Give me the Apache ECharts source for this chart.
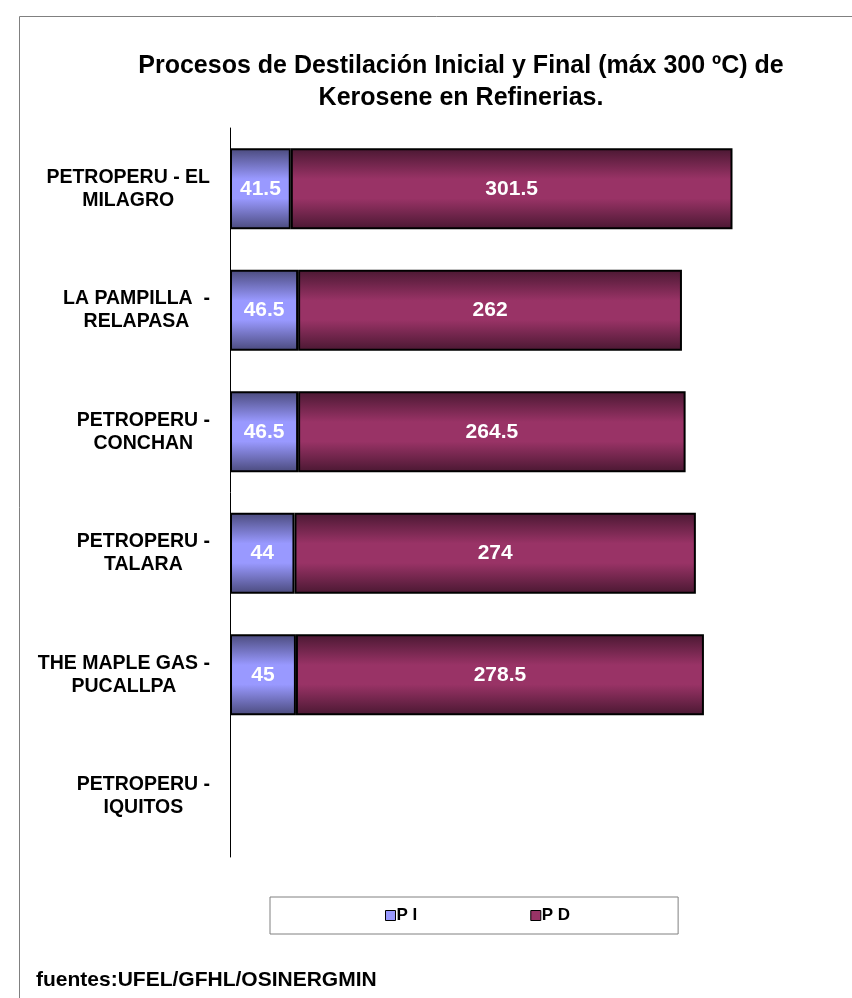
<!DOCTYPE html>
<html>
<head>
<meta charset="utf-8">
<title>Destilación Kerosene</title>
<script src="https://cdn.jsdelivr.net/npm/echarts@6/dist/echarts.min.js"></script>
<style>
  html, body { margin: 0; padding: 0; background: #fff; }
  #container { width: 852px; height: 998px; }
</style>
</head>
<body>
<div id="container"></div>
<script>
// categorias (de arriba hacia abajo)
const refinerias = [
  'PETROPERU - EL\nMILAGRO',
  'LA PAMPILLA  -\nRELAPASA',
  'PETROPERU -\nCONCHAN',
  'PETROPERU -\nTALARA',
  'THE MAPLE GAS -\nPUCALLPA',
  'PETROPERU -\nIQUITOS'
];
// punto inicial
const puntoInicial = [41.5, 46.5, 46.5, 44, 45, null];
// punto de destilacion final
const puntoFinal = [301.5, 262, 264.5, 274, 278.5, null];

const titulo = 'Procesos de Destilación Inicial y Final (máx 300 ºC) de\nKerosene en Refinerias.';
const fuente = 'fuentes:UFEL/GFHL/OSINERGMIN';

const FONT = '"Liberation Sans", Arial, sans-serif';

// degradado vertical tipo cilindro
function cilindro(oscuro, claro) {
  return new echarts.graphic.LinearGradient(0, 0, 0, 1, [
    { offset: 0, color: oscuro },
    { offset: 0.38, color: claro },
    { offset: 0.62, color: claro },
    { offset: 1, color: oscuro }
  ]);
}

// etiqueta de categoria: lineas centradas entre si
function formatoCategoria(value) {
  return value.split('\n').map(l => '{c|' + l + '}').join('\n');
}

function serieBarra(nombre, datos, oscuro, claro) {
  return {
    name: nombre,
    type: 'bar',
    stack: 'total',
    barWidth: 81,
    data: datos,
    itemStyle: {
      color: cilindro(oscuro, claro),
      borderColor: '#000',
      borderWidth: 2
    },
    label: {
      show: true,
      position: 'inside',
      color: '#fff',
      fontFamily: FONT,
      fontWeight: 'bold',
      fontSize: 21
    }
  };
}

const myChart = echarts.init(document.getElementById('container'));

const option = {
  backgroundColor: '#fff',
  animation: false,
  title: [
    {
      text: titulo,
      left: 456,
      textAlign: 'center',
      top: 45,
      textStyle: {
        fontFamily: FONT,
        fontWeight: 'bold',
        fontSize: 25,
        lineHeight: 32,
        color: '#000'
      }
    },
    {
      text: fuente,
      left: 31,
      top: 965,
      textStyle: {
        fontFamily: FONT,
        fontWeight: 'bold',
        fontSize: 21,
        color: '#000'
      }
    }
  ],
  graphic: [
    {
      type: 'rect',
      silent: true,
      shape: { x: 19.5, y: 16.5, width: 900, height: 1000 },
      style: { fill: null, stroke: '#808080', lineWidth: 1 }
    }
  ],
  legend: {
    left: 270,
    top: 897,
    padding: [10, 108, 10, 115],
    itemGap: 113,
    itemWidth: 10,
    itemHeight: 10,
    borderColor: '#808080',
    borderWidth: 1,
    textStyle: {
      fontFamily: FONT,
      fontWeight: 'bold',
      fontSize: 17,
      color: '#000',
      padding: [0, 0, 0, -4]
    },
    data: [
      { name: 'P I', icon: 'rect', itemStyle: { color: '#9999ff', borderColor: '#000', borderWidth: 1 } },
      { name: 'P D', icon: 'rect', itemStyle: { color: '#993366', borderColor: '#000', borderWidth: 1 } }
    ]
  },
  grid: {
    left: 230,
    right: 36,
    top: 128,
    bottom: 141,
    containLabel: false
  },
  xAxis: {
    type: 'value',
    min: 0,
    max: 400,
    show: false
  },
  yAxis: {
    type: 'category',
    inverse: true,
    data: refinerias,
    axisLine: { show: true, lineStyle: { color: '#000', width: 1 } },
    axisTick: { show: false },
    splitLine: { show: false },
    axisLabel: {
      margin: 20,
      align: 'right',
      formatter: formatoCategoria,
      rich: {
        c: {
          align: 'center',
          fontFamily: FONT,
          fontWeight: 'bold',
          fontSize: 19.5,
          lineHeight: 23,
          color: '#000'
        }
      }
    }
  },
  series: [
    serieBarra('P I', puntoInicial, '#4a4a7c', '#9999ff'),
    serieBarra('P D', puntoFinal, '#4a1832', '#993366')
  ]
};

myChart.setOption(option);
</script>
</body>
</html>
